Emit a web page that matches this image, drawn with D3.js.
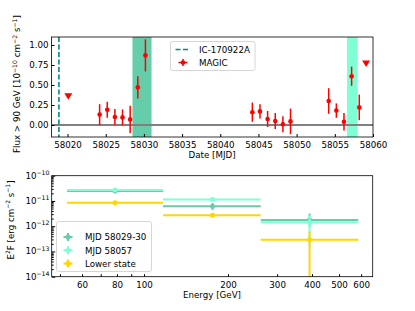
<!DOCTYPE html>
<html>
<head>
    <script src="https://cdn.jsdelivr.net/npm/d3@7"></script>
    <style>
        body, html { margin: 0; background: #fff; }
        svg text { font-family: "DejaVu Sans", sans-serif; font-size: 8.7px; fill: #000; }
    </style>
</head>
<body>
<div id="chart"></div>
<script>
    // light curve (MJD, flux > 90 GeV in 1e-10 cm^-2 s^-1)
    const lcDays  = [58024.2, 58025.2, 58026.2, 58027.2, 58028.2, 58029.2, 58030.2,
                     58044.2, 58045.2, 58046.2, 58047.2, 58048.2, 58049.2,
                     58054.2, 58055.2, 58056.2, 58057.2, 58058.2];
    const lcFlux  = [0.13, 0.19, 0.10, 0.095, 0.07, 0.47, 0.87,
                     0.16, 0.17, 0.075, 0.05, 0.01, 0.045,
                     0.30, 0.18, 0.04, 0.61, 0.22];
    const lcErr   = [0.13, 0.10, 0.10, 0.10, 0.17, 0.14, 0.20,
                     0.12, 0.09, 0.10, 0.10, 0.10, 0.16,
                     0.16, 0.09, 0.11, 0.12, 0.16];
    const ulDays  = [58020.1, 58059.1];
    const ulFlux  = [0.36, 0.77];
    const icDay   = 58018.87;
    const bands   = [[58028.5, 58031.0, "#66cdaa"], [58056.6, 58058.0, "#7fffd4"]];
    const lcXTicks = [58020, 58025, 58030, 58035, 58040, 58045, 58050, 58055, 58060];
    const lcYTicks = [0, 0.25, 0.5, 0.75, 1.0];

    // SED (energy bins in GeV, E^2F in erg cm^-2 s^-1)
    const binEdges  = [53, 117, 262, 586];
    const binCenter = [78.7, 176, 392];
    const sedNames  = ["MJD 58029-30", "MJD 58057", "Lower state"];
    const sedColors = ["#66cdaa", "#7fffd4", "#ffd700"];
    const sedVal = [[2.5e-11, 6.2e-12, 1.75e-12], [2.7e-11, 1.15e-11, 1.42e-12], [8.5e-12, 2.7e-12, 2.9e-13]];
    const sedLo  = [[2.1e-11, 4.4e-12, 0.9e-12],  [2.3e-11, 0.98e-11, 1.7e-13],  [7.8e-12, 2.3e-12, 1e-15]];
    const sedHi  = [[3.0e-11, 8.3e-12, 3.2e-12],  [3.1e-11, 1.35e-11, 2.7e-12],  [9.3e-12, 3.1e-12, 6.2e-13]];
    const sedXTicks = [60, 80, 100, 200, 300, 400, 500, 600];
    const sedXMinor = [50, 70, 90];
    const sedYTicks = [-14, -13, -12, -11, -10];

    const svg = d3.select("#chart").append("svg").attr("width", 415).attr("height", 311);

    // ---------- top panel ----------
    const x1 = d3.scaleLinear().domain([58017.9, 58060]).range([51.5, 373]);
    const y1 = d3.scaleLinear().domain([-0.15, 1.1]).range([137, 37]);
    const topG = svg.append("g");

    bands.forEach(b => {
        topG.append("rect").attr("x", x1(b[0])).attr("y", 37)
           .attr("width", x1(b[1]) - x1(b[0])).attr("height", 100).attr("fill", b[2]);
    });
    topG.append("line").attr("x1", 51.5).attr("x2", 373).attr("y1", y1(0)).attr("y2", y1(0))
       .attr("stroke", "#808080").attr("stroke-width", 2);
    topG.append("line").attr("x1", x1(icDay)).attr("x2", x1(icDay)).attr("y1", 37).attr("y2", 137)
       .attr("stroke", "#008b8b").attr("stroke-width", 1.6).attr("stroke-dasharray", "5,2.5");

    lcDays.forEach((d, i) => {
        topG.append("line").attr("x1", x1(d)).attr("x2", x1(d))
           .attr("y1", y1(lcFlux[i] - lcErr[i])).attr("y2", y1(lcFlux[i] + lcErr[i]))
           .attr("stroke", "red").attr("stroke-width", 1.5);
        topG.append("circle").attr("cx", x1(d)).attr("cy", y1(lcFlux[i])).attr("r", 2.3).attr("fill", "red");
    });
    ulDays.forEach((d, i) => {
        const cx = x1(d), cy = y1(ulFlux[i]);
        topG.append("path").attr("d", `M${cx - 4},${cy - 3} L${cx + 4},${cy - 3} L${cx},${cy + 3.5} Z`).attr("fill", "red");
    });

    topG.append("g").attr("transform", "translate(0,137)")
       .call(d3.axisBottom(x1).tickValues(lcXTicks).tickFormat(d3.format("d")).tickSizeInner(-3).tickSizeOuter(0).tickPadding(5));
    topG.append("g").attr("transform", "translate(51.5,0)")
       .call(d3.axisLeft(y1).tickValues(lcYTicks).tickFormat(d3.format(".2f")).tickSizeInner(-3).tickSizeOuter(0).tickPadding(3));
    topG.selectAll(".domain").attr("stroke", "none");
    topG.selectAll(".tick text").attr("font-size", 7.6).attr("font-family", "DejaVu Sans");
    topG.append("rect").attr("x", 51.5).attr("y", 37).attr("width", 321.5).attr("height", 100)
       .attr("fill", "none").attr("stroke", "#000").attr("stroke-width", 0.8);

    topG.append("text").attr("x", 212).attr("y", 158).attr("text-anchor", "middle").text("Date [MJD]");
    const yl1 = topG.append("text").attr("transform", "translate(20,84) rotate(-90)").attr("text-anchor", "middle");
    yl1.append("tspan").text("Flux > 90 GeV [10");
    yl1.append("tspan").attr("dy", -3.5).attr("font-size", 6.2).text("\u221210");
    yl1.append("tspan").attr("dy", 3.5).text(" cm");
    yl1.append("tspan").attr("dy", -3.5).attr("font-size", 6.2).text("\u22122");
    yl1.append("tspan").attr("dy", 3.5).text(" s");
    yl1.append("tspan").attr("dy", -3.5).attr("font-size", 6.2).text("\u22121");
    yl1.append("tspan").attr("dy", 3.5).text("]");

    // legend top
    const lg1 = topG.append("g").attr("transform", "translate(170.5,41.5)");
    lg1.append("rect").attr("width", 84.5).attr("height", 29).attr("rx", 2)
       .attr("fill", "#fff").attr("fill-opacity", 0.8).attr("stroke", "#ccc").attr("stroke-width", 0.8);
    lg1.append("line").attr("x1", 5).attr("x2", 20).attr("y1", 8).attr("y2", 8)
       .attr("stroke", "#008b8b").attr("stroke-width", 1.6).attr("stroke-dasharray", "5,2.5");
    lg1.append("text").attr("x", 28.5).attr("y", 11.2).attr("font-size", 9).text("IC-170922A");
    lg1.append("line").attr("x1", 12.5).attr("x2", 12.5).attr("y1", 17.5).attr("y2", 24.5).attr("stroke", "red").attr("stroke-width", 1.5);
    lg1.append("line").attr("x1", 8).attr("x2", 17).attr("y1", 21).attr("y2", 21).attr("stroke", "red").attr("stroke-width", 1.5);
    lg1.append("circle").attr("cx", 12.5).attr("cy", 21).attr("r", 2.3).attr("fill", "red");
    lg1.append("text").attr("x", 28.5).attr("y", 24.2).attr("font-size", 9).text("MAGIC");

    // ---------- bottom panel ----------
    const x2 = d3.scaleLog().domain([46.7, 660]).range([51.7, 372.7]);
    const y2 = d3.scaleLog().domain([1e-14, 1e-10]).range([276.7, 175.7]);
    const bot = svg.append("g");
    svg.append("clipPath").attr("id", "clip2").append("rect")
       .attr("x", 51.7).attr("y", 175.7).attr("width", 321).attr("height", 101);
    const plot2 = bot.append("g").attr("clip-path", "url(#clip2)");

    sedVal.forEach((vals, s) => {
        vals.forEach((v, b) => {
            plot2.append("line").attr("x1", x2(binEdges[b])).attr("x2", x2(binEdges[b + 1]))
                 .attr("y1", y2(v)).attr("y2", y2(v)).attr("stroke", sedColors[s]).attr("stroke-width", 2);
            plot2.append("line").attr("x1", x2(binCenter[b])).attr("x2", x2(binCenter[b]))
                 .attr("y1", y2(sedLo[s][b])).attr("y2", y2(sedHi[s][b])).attr("stroke", sedColors[s]).attr("stroke-width", 2);
            plot2.append("circle").attr("cx", x2(binCenter[b])).attr("cy", y2(v)).attr("r", 2.5).attr("fill", sedColors[s]);
        });
    });

    bot.append("g").attr("transform", "translate(0,276.7)")
       .call(d3.axisBottom(x2).tickValues(sedXTicks).tickFormat(d3.format("d")).tickSizeInner(-2.5).tickSizeOuter(0).tickPadding(5));
    bot.append("g").attr("transform", "translate(0,276.7)")
       .call(d3.axisBottom(x2).tickValues(sedXMinor).tickFormat("").tickSizeInner(-2.5).tickSizeOuter(0));
    const minorY = [];
    for (let e = -14; e < -10; e++) for (let m = 2; m < 10; m++) minorY.push(m * Math.pow(10, e));
    bot.append("g").attr("transform", "translate(51.7,0)")
       .call(d3.axisLeft(y2).tickValues(minorY).tickFormat("").tickSizeInner(-2).tickSizeOuter(0));
    bot.append("g").attr("transform", "translate(51.7,0)")
       .call(d3.axisLeft(y2).tickValues(sedYTicks.map(e => Math.pow(10, e))).tickFormat("").tickSizeInner(-3.5).tickSizeOuter(0));
    bot.selectAll(".tick text").attr("font-size", 8.6).attr("font-family", "DejaVu Sans");
    sedYTicks.forEach(e => {
        const t = bot.append("text").attr("x", 49.5).attr("y", y2(Math.pow(10, e)) + 3).attr("text-anchor", "end").attr("font-size", 8.8);
        t.append("tspan").text("10");
        t.append("tspan").attr("dy", -3.8).attr("font-size", 6.2).text("\u2212" + (-e));
    });
    bot.selectAll(".domain").attr("stroke", "none");
    bot.append("rect").attr("x", 51.7).attr("y", 175.7).attr("width", 321).attr("height", 101)
       .attr("fill", "none").attr("stroke", "#000").attr("stroke-width", 0.8);

    bot.append("text").attr("x", 212).attr("y", 298).attr("text-anchor", "middle").attr("font-size", 8.4).text("Energy [GeV]");
    const yl2 = bot.append("text").attr("transform", "translate(13.5,220) rotate(-90)").attr("text-anchor", "middle").attr("font-size", 8.3);
    yl2.append("tspan").text("E");
    yl2.append("tspan").attr("dy", -3.5).attr("font-size", 6).text("2");
    yl2.append("tspan").attr("dy", 3.5).text("F [erg cm");
    yl2.append("tspan").attr("dy", -3.5).attr("font-size", 6).text("\u22122");
    yl2.append("tspan").attr("dy", 3.5).text(" s");
    yl2.append("tspan").attr("dy", -3.5).attr("font-size", 6).text("\u22121");
    yl2.append("tspan").attr("dy", 3.5).text("]");

    // legend bottom
    const lg2 = bot.append("g").attr("transform", "translate(56.5,221.5)");
    lg2.append("rect").attr("width", 95).attr("height", 50).attr("rx", 2)
       .attr("fill", "#fff").attr("fill-opacity", 0.8).attr("stroke", "#ccc").attr("stroke-width", 0.8);
    sedNames.forEach((n, i) => {
        const cy = 15.5 + i * 13.3;
        lg2.append("line").attr("x1", 11.5).attr("x2", 11.5).attr("y1", cy - 4).attr("y2", cy + 4).attr("stroke", sedColors[i]).attr("stroke-width", 2);
        lg2.append("line").attr("x1", 7).attr("x2", 16).attr("y1", cy).attr("y2", cy).attr("stroke", sedColors[i]).attr("stroke-width", 2);
        lg2.append("circle").attr("cx", 11.5).attr("cy", cy).attr("r", 2.5).attr("fill", sedColors[i]);
        lg2.append("text").attr("x", 28.5).attr("y", cy + 3.2).attr("font-size", 9).text(n);
    });
</script>
</body>
</html>
